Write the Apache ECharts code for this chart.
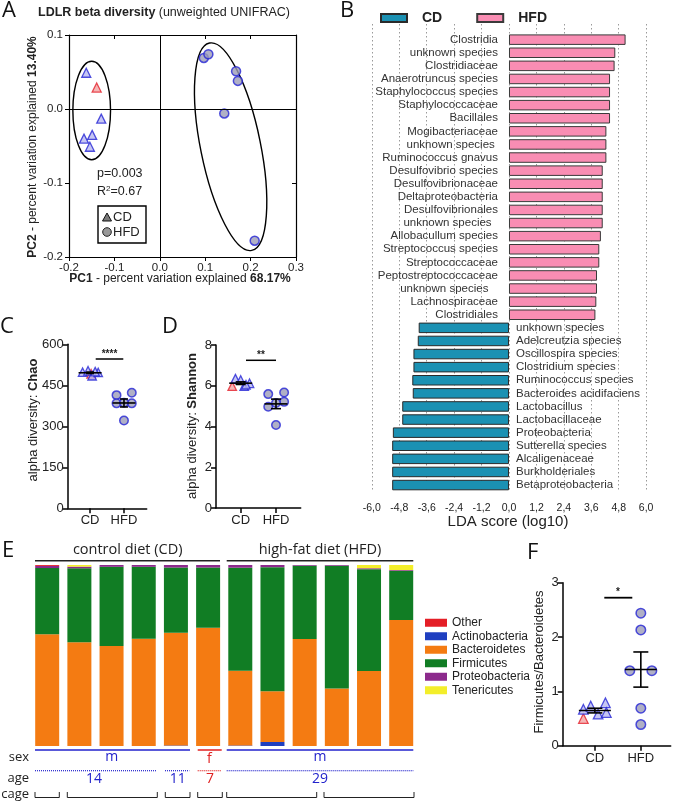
<!DOCTYPE html>
<html><head><meta charset="utf-8">
<script src="https://cdn.jsdelivr.net/npm/echarts@6/dist/echarts.min.js"></script>
<style>html,body{margin:0;padding:0;background:#fff}#c{width:673px;height:802px}</style>
</head><body><div id="c"></div><script>
// ===================== DATA =====================
// Panel A: PCoA (unweighted UNIFRAC)
const pcoaCDx = [-0.162, -0.129, -0.149, -0.167, -0.154];
const pcoaCDy = [0.049, -0.013, -0.035, -0.040, -0.051];
const pcoaCDfx = [-0.139];
const pcoaCDfy = [0.029];
const pcoaHFDx = [0.097, 0.107, 0.168, 0.172, 0.142, 0.209];
const pcoaHFDy = [0.069, 0.074, 0.051, 0.038, -0.006, -0.178];
// ellipses: [centerX, centerY, radiusX, radiusY, angleDeg]
const pcoaEllipseCD = [-0.150, -0.002, 0.0415, 0.0665, 0];
const pcoaEllipseHFD = [0.156, -0.051, 0.066, 0.143, 11.5];
const pcoaTicksX = [-0.2, -0.1, 0.0, 0.1, 0.2, 0.3];
const pcoaTicksY = [-0.2, -0.1, 0.0, 0.1];

// Panel B: LEfSe LDA scores
const ldaHFDTaxa = ['Clostridia','unknown species','Clostridiaceae','Anaerotruncus species','Staphylococcus species','Staphylococcaceae','Bacillales','Mogibacteriaceae','unknown species ','Ruminococcus gnavus','Desulfovibrio species','Desulfovibrionaceae','Deltaproteobacteria','Desulfovibrionales','unknown species  ','Allobacullum species','Streptococcus species','Streptococcaceae','Peptostreptococcaceae','unknown species   ','Lachnospiraceae','Clostridiales'];
const ldaHFD = [5.10, 4.65, 4.62, 4.42, 4.42, 4.42, 4.42, 4.26, 4.26, 4.26, 4.10, 4.10, 4.10, 4.10, 4.10, 4.02, 3.95, 3.95, 3.85, 3.85, 3.82, 3.78];
const ldaCDTaxa = ['unknown species    ','Adelcreutzia species','Oscillospira species','Clostridium species','Ruminococcus species','Bacteroides acidifaciens','Lactobacillus','Lactobacillaceae','Proteobacteria','Sutterella species','Alcaligenaceae','Burkholderiales','Betaproteobacteria'];
const ldaCD = [-3.95, -3.99, -4.18, -4.18, -4.23, -4.21, -4.67, -4.67, -5.08, -5.11, -5.11, -5.11, -5.11];
const ldaTicks = [-6.0, -4.8, -3.6, -2.4, -1.2, 0.0, 1.2, 2.4, 3.6, 4.8, 6.0];

// Panels C, D, F: per-mouse values (CD: last value = female mouse, red)
const groups = ['CD', 'HFD'];
const chaoCD = [498, 503, 485, 497, 500, 492];
const chaoHFD = [414, 423, 384, 384, 386, 321];
const shannonCD = [6.35, 6.28, 5.98, 6.12, 6.05, 5.98];
const shannonHFD = [5.59, 5.67, 4.97, 5.21, 5.15, 4.07];
const fbCD = [0.67, 0.73, 0.58, 0.79, 0.61, 0.50];
const fbHFD = [2.44, 2.13, 1.38, 1.38, 0.69, 0.39];
// horizontal scatter offsets (in group units)
const jitCDc = [-0.22, -0.06, 0.06, 0.24, 0.15, 0.03];
const jitHFDc = [-0.22, 0.23, -0.22, 0.23, 0.0, 0.0];
const jitCDd = [-0.15, 0.0, 0.1, 0.25, 0.15, -0.24];
const jitHFDd = [-0.22, 0.23, -0.22, 0.23, 0.0, 0.0];
const jitCDf = [-0.25, -0.09, 0.07, 0.23, 0.25, -0.25];
const jitHFDf = [0.0, 0.0, -0.24, 0.24, 0.0, 0.0];

// Panel E: relative abundance (%) per mouse
const samples = ['CD1','CD2','CD3','CD4','CD5','CD6','HFD1','HFD2','HFD3','HFD4','HFD5','HFD6'];
const phyla = ['Other','Actinobacteria','Bacteroidetes','Firmicutes','Proteobacteria','Tenericutes'];
const actinobacteria = [0, 0, 0, 0, 0.3, 0, 0.3, 2.2, 0, 0, 0, 0];
const bacteroidetes = [61.7, 57.3, 55.2, 59.3, 62.3, 65.4, 41.3, 28.0, 59.1, 31.7, 41.4, 69.6];
const firmicutes = [36.6, 40.9, 43.8, 39.7, 36.0, 33.2, 56.9, 68.6, 40.5, 67.9, 56.3, 27.2];
const proteobacteria = [1.2, 0.9, 1.0, 1.0, 1.4, 1.4, 1.5, 1.2, 0.4, 0.4, 0.5, 0.4];
const tenericutes = [0, 0.9, 0, 0, 0, 0, 0, 0, 0, 0, 1.8, 2.8];
const other = [0.5, 0, 0, 0, 0, 0, 0, 0, 0, 0, 0, 0];

// ===================== STYLE =====================
const FONT = '"Liberation Sans", Arial, sans-serif';
const FONT2 = '"Open Sans", "Liberation Sans", sans-serif';
const BLUE = '#2424d4', TRI_FILL = '#b8b8f0', CIR_FILL = '#9c9cb8';
const RED = '#e3202a', RED_FILL = '#f2a4a4';
const TXT = '#222';
const phylumColor = {Other:'#e41e26', Actinobacteria:'#1f3fc0', Bacteroidetes:'#f47b12', Firmicutes:'#117d24', Proteobacteria:'#8c2a8c', Tenericutes:'#f3ee2a'};

function mean(a){ return a.reduce((s,v)=>s+v,0)/a.length; }
function sem(a){ const m=mean(a); return Math.sqrt(a.reduce((s,v)=>s+(v-m)*(v-m),0)/(a.length-1))/Math.sqrt(a.length); }
function fmt1(v){ return (Math.abs(v)<1e-9?0:v).toFixed(1); }

// ===================== AXES =====================
function dotX(gi, min, max){
  return {type:'value', gridIndex:gi, min, max,
    axisLine:{onZero:false, lineStyle:{color:'#000', width:1.5}},
    axisTick:{customValues:[0,1], length:5, lineStyle:{color:'#000', width:1.5}},
    axisLabel:{customValues:[0,1], formatter:v=>groups[Math.round(v)], fontSize:13, color:TXT, fontFamily:FONT, margin:6},
    splitLine:{show:false}};
}
function dotY(gi, max, interval){
  return {type:'value', gridIndex:gi, min:0, max, interval,
    axisLine:{show:true, onZero:false, lineStyle:{color:'#000', width:1.5}},
    axisTick:{show:true, length:5, lineStyle:{color:'#000', width:1.5}},
    axisLabel:{fontSize:13, color:TXT, fontFamily:FONT, margin:4},
    splitLine:{show:false}};
}

const xAxes = [
  // 0 A bottom
  {type:'value', gridIndex:0, min:-0.2, max:0.3, interval:0.1,
   axisLine:{onZero:false, lineStyle:{color:'#000', width:1.2}},
   axisTick:{length:4, lineStyle:{color:'#000'}},
   axisLabel:{formatter:fmt1, fontSize:11.5, color:TXT, fontFamily:FONT, margin:5},
   splitLine:{show:false}},
  // 1 A top
  {type:'value', gridIndex:0, position:'top', min:-0.2, max:0.3, interval:0.1,
   axisLine:{onZero:false, lineStyle:{color:'#000', width:1.2}},
   axisTick:{inside:true, length:4, lineStyle:{color:'#000'}},
   axisLabel:{show:false}, splitLine:{show:false}},
  // 2 B
  {type:'value', gridIndex:1, min:-7.2, max:6.96, offset:5,
   axisLine:{onZero:false, lineStyle:{color:'#000', width:1.5}},
   axisTick:{customValues:ldaTicks, length:3, lineStyle:{color:'#000'}},
   axisLabel:{customValues:ldaTicks, formatter:v=>fmt1(v).replace('.',','), fontSize:10.5, color:TXT, fontFamily:FONT, margin:6},
   splitLine:{show:false}},
  // 3 B split lines
  {type:'value', gridIndex:2, min:-6, max:6, interval:1.2,
   axisLine:{show:false}, axisTick:{show:false}, axisLabel:{show:false},
   splitLine:{show:true, lineStyle:{color:'#9a9a9a', type:[1.5,2.5], width:1}}},
  // 4 C
  dotX(3, -0.66, 1.67),
  // 5 D
  dotX(4, -0.70, 1.70),
  // 6 E
  {type:'category', gridIndex:5, data:samples, show:false},
  // 7 F
  dotX(6, -0.70, 1.65)
];
const yAxes = [
  // 0 A left
  {type:'value', gridIndex:0, min:-0.2, max:0.1, interval:0.1,
   axisLine:{show:true, onZero:false, lineStyle:{color:'#000', width:1.2}},
   axisTick:{show:true, length:4, lineStyle:{color:'#000'}},
   axisLabel:{formatter:fmt1, fontSize:11.5, color:TXT, fontFamily:FONT, margin:6},
   splitLine:{show:false}},
  // 1 A right
  {type:'value', gridIndex:0, position:'right', min:-0.2, max:0.1, interval:0.1,
   axisLine:{show:true, onZero:false, lineStyle:{color:'#000', width:1.2}},
   axisTick:{show:true, inside:true, length:4, lineStyle:{color:'#000'}},
   axisLabel:{show:false}, splitLine:{show:false}},
  // 2 B categories
  {type:'category', gridIndex:1, inverse:true, data:ldaHFDTaxa.concat(ldaCDTaxa), show:false},
  // 3 B split dummy
  {type:'value', gridIndex:2, show:false},
  // 4 C
  dotY(3, 600, 150),
  // 5 D
  dotY(4, 8, 2),
  // 6 E
  {type:'value', gridIndex:5, min:0, max:100, show:false},
  // 7 F
  dotY(6, 3, 1)
];

const grids = [
  {left:69, top:35, width:227, height:222},          // A
  {left:344.4, top:33.1, width:323.7, height:458.5}, // B bars
  {left:371.8, top:24, width:274.3, height:467},     // B split lines
  {left:67.7, top:344.3, width:79, height:164},      // C
  {left:216, top:345, width:84.7, height:163},       // D
  {left:31.1, top:565, width:386.2, height:181},     // E
  {left:562.7, top:582.7, width:108, height:163}     // F
];

// ===================== SERIES =====================
const series = [];
const triStyle = {color:TRI_FILL, borderColor:BLUE, borderWidth:1.3};
const triRed = {color:RED_FILL, borderColor:RED, borderWidth:1.3};
const cirStyle = {color:CIR_FILL, borderColor:BLUE, borderWidth:1.5};

// --- A ---
series.push({type:'custom', name:'ellipses', xAxisIndex:0, yAxisIndex:0, z:1, silent:true,
  data:[pcoaEllipseCD, pcoaEllipseHFD],
  renderItem:(p, api)=>{
    const c = api.coord([api.value(0), api.value(1)]);
    const sz = api.size([api.value(2), api.value(3)]);
    return {type:'ellipse', x:c[0], y:c[1], rotation:api.value(4)*Math.PI/180,
      shape:{cx:0, cy:0, rx:sz[0], ry:sz[1]}, style:{fill:'none', stroke:'#000', lineWidth:1.4}};
  }});
series.push({type:'scatter', name:'A_CD', xAxisIndex:0, yAxisIndex:0, symbol:'triangle', symbolSize:9, itemStyle:triStyle, z:3,
  data:pcoaCDx.map((x,i)=>[x, pcoaCDy[i]]),
  markLine:{silent:true, symbol:['none','none'], label:{show:false}, lineStyle:{color:'#000', type:'solid', width:1},
    data:[{xAxis:0},{yAxis:0}]}});
series.push({type:'scatter', name:'A_CDf', xAxisIndex:0, yAxisIndex:0, symbol:'triangle', symbolSize:9, itemStyle:triRed, z:3,
  data:pcoaCDfx.map((x,i)=>[x, pcoaCDfy[i]])});
series.push({type:'scatter', name:'A_HFD', xAxisIndex:0, yAxisIndex:0, symbol:'circle', symbolSize:9, itemStyle:cirStyle, z:3,
  data:pcoaHFDx.map((x,i)=>[x, pcoaHFDy[i]])});

// --- B ---
const nHFD = ldaHFD.length, nCD = ldaCD.length;
series.push({type:'bar', name:'HFD', xAxisIndex:2, yAxisIndex:2, barWidth:10.5, barGap:'-100%',
  itemStyle:{color:'#f98db3', borderColor:'#3a3a3a', borderWidth:1},
  label:{show:true, position:'left', distance:11, formatter:'{b}', fontSize:11.5, color:'#333', fontFamily:FONT},
  data:ldaHFD.concat(new Array(nCD).fill(null))});
series.push({type:'bar', name:'CD', xAxisIndex:2, yAxisIndex:2, barWidth:10.5, barGap:'-100%',
  itemStyle:{color:'#1b91b3', borderColor:'#2a2a2a', borderWidth:1},
  label:{show:true, position:'right', distance:7, formatter:'{b}', fontSize:11.5, color:'#333', fontFamily:FONT},
  data:new Array(nHFD).fill(null).concat(ldaCD)});
series.push({type:'scatter', name:'split', xAxisIndex:3, yAxisIndex:3, data:[]});

// --- C, D, F dot plots ---
function errSeries(xi, yi, cd, hfd, halfMean, halfCap){
  return {type:'custom', name:'err'+xi, xAxisIndex:xi, yAxisIndex:yi, z:5, silent:true,
    data:[[0, mean(cd), sem(cd)], [1, mean(hfd), sem(hfd)]],
    renderItem:(p, api)=>{
      const x=api.value(0), m=api.value(1), s=api.value(2);
      const c=api.coord([x,m]), t=api.coord([x,m+s]), b=api.coord([x,m-s]);
      const st={stroke:'#000', lineWidth:1.6};
      return {type:'group', children:[
        {type:'line', shape:{x1:c[0]-halfMean, y1:c[1], x2:c[0]+halfMean, y2:c[1]}, style:st},
        {type:'line', shape:{x1:c[0], y1:t[1], x2:c[0], y2:b[1]}, style:st},
        {type:'line', shape:{x1:c[0]-halfCap, y1:t[1], x2:c[0]+halfCap, y2:t[1]}, style:st},
        {type:'line', shape:{x1:c[0]-halfCap, y1:b[1], x2:c[0]+halfCap, y2:b[1]}, style:st}
      ]};
    }};
}
function dotSeries(xi, yi, cd, hfd, jc, jh, size, halfMean, halfCap){
  const n = cd.length;
  series.push({type:'scatter', name:'cd'+xi, xAxisIndex:xi, yAxisIndex:yi, symbol:'triangle', symbolSize:size, itemStyle:triStyle, z:3,
    data:cd.slice(0,n-1).map((v,i)=>[jc[i], v])});
  series.push({type:'scatter', name:'cdf'+xi, xAxisIndex:xi, yAxisIndex:yi, symbol:'triangle', symbolSize:size, itemStyle:triRed, z:2,
    data:[[jc[n-1], cd[n-1]]]});
  series.push({type:'scatter', name:'hfd'+xi, xAxisIndex:xi, yAxisIndex:yi, symbol:'circle', symbolSize:size, itemStyle:cirStyle, z:3,
    data:hfd.map((v,i)=>[1+jh[i], v])});
  series.push(errSeries(xi, yi, cd, hfd, halfMean, halfCap));
}
dotSeries(4, 4, chaoCD, chaoHFD, jitCDc, jitHFDc, 8.5, 11.5, 4);
dotSeries(5, 5, shannonCD, shannonHFD, jitCDd, jitHFDd, 8.5, 11.5, 5);
dotSeries(7, 7, fbCD, fbHFD, jitCDf, jitHFDf, 9.5, 16, 7.5);

// --- E stacked bars ---
const eData = {Actinobacteria:actinobacteria, Bacteroidetes:bacteroidetes, Firmicutes:firmicutes, Proteobacteria:proteobacteria, Tenericutes:tenericutes, Other:other};
['Actinobacteria','Bacteroidetes','Firmicutes','Proteobacteria','Tenericutes','Other'].forEach(name=>{
  series.push({type:'bar', name, xAxisIndex:6, yAxisIndex:6, stack:'phyla', barWidth:24,
    itemStyle:{color:phylumColor[name]}, data:eData[name]});
});

// ===================== ANNOTATIONS =====================
function txt(x, y, text, o){
  o = o || {};
  return {type:'text', x, y, rotation:o.rot||0, z:10,
    style:{text, font:o.font||('12px '+FONT), fill:o.fill||TXT, align:o.align||'left', verticalAlign:'middle', rich:o.rich}};
}
function ln(x1, y1, x2, y2, color, w, dash){
  return {type:'line', z:10, shape:{x1, y1, x2, y2}, style:{stroke:color||'#000', lineWidth:w||1.5, lineDash:dash||null}};
}
const letterFont = '22px '+FONT2;
const boldRich = (fs)=>({b:{fontWeight:'bold', fontSize:fs, fontFamily:FONT, fill:TXT}, n:{fontSize:fs, fontFamily:FONT, fill:TXT}});
const g = [];
// panel letters
g.push(txt(2, 11, 'A', {font:letterFont, fill:'#111'}));
g.push(txt(340, 11, 'B', {font:letterFont, fill:'#111'}));
g.push(txt(0, 327, 'C', {font:letterFont, fill:'#111'}));
g.push(txt(162, 327, 'D', {font:letterFont, fill:'#111'}));
g.push(txt(2, 551, 'E', {font:letterFont, fill:'#111'}));
g.push(txt(527, 553, 'F', {font:letterFont, fill:'#111'}));
// A
g.push(txt(38, 13, '{b|LDLR beta diversity} {n|(unweighted UNIFRAC)}', {rich:boldRich(12.5)}));
g.push(txt(33, 147, '{b|PC2} {n|- percent variation explained} {b|13.40%}', {rot:Math.PI/2, align:'center', rich:boldRich(12)}));
g.push(txt(180, 279, '{b|PC1} {n|- percent variation explained} {b|68.17%}', {align:'center', rich:boldRich(12)}));
g.push(txt(97, 174, 'p=0.003', {font:'12.5px '+FONT}));
g.push(txt(97, 192, '{n|R}{s|2}{n|=0.67}', {rich:{n:{fontSize:12.5, fontFamily:FONT, fill:TXT}, s:{fontSize:8, fontFamily:FONT, fill:TXT, verticalAlign:'top', padding:[0,0,6,0]}}}));
g.push({type:'rect', z:10, shape:{x:98, y:206, width:48, height:37}, style:{fill:'none', stroke:'#000', lineWidth:1.4}});
g.push({type:'polygon', z:10, shape:{points:[[102.5,221],[111.5,221],[107,213]]}, style:{fill:'#7a7a7a', stroke:'#111', lineWidth:1}});
g.push(txt(113, 217.5, 'CD', {font:'13px '+FONT}));
g.push({type:'circle', z:10, shape:{cx:107, cy:232, r:4.3}, style:{fill:'#9a9a9a', stroke:'#222', lineWidth:1}});
g.push(txt(113, 232.5, 'HFD', {font:'13px '+FONT}));
// B
g.push(txt(508, 521.5, 'LDA score (log10)', {align:'center', font:'15px '+FONT}));
// C, D, F titles & significance
g.push(txt(33, 420, '{n|alpha diversity: }{b|Chao}', {rot:Math.PI/2, align:'center', rich:boldRich(13)}));
g.push(txt(192, 426, '{n|alpha diversity: }{b|Shannon}', {rot:Math.PI/2, align:'center', rich:boldRich(13)}));
g.push(txt(539, 662, 'Firmicutes/Bacteroidetes', {rot:Math.PI/2, align:'center', font:'13px '+FONT}));
g.push(ln(95.7, 359, 123.3, 359, '#000', 1.5));
g.push(txt(109.5, 354, '****', {align:'center', font:'bold 10px '+FONT}));
g.push(ln(246, 360.3, 276, 360.3, '#000', 1.5));
g.push(txt(261, 355, '**', {align:'center', font:'bold 10px '+FONT}));
g.push(ln(604.3, 597.7, 632.3, 597.7, '#000', 1.8));
g.push(txt(618, 592, '*', {align:'center', font:'bold 10px '+FONT}));
// E header
g.push(txt(127.7, 550, 'control diet (CD)', {align:'center', font:'14.5px '+FONT2}));
g.push(txt(320, 550, 'high-fat diet (HFD)', {align:'center', font:'14.5px '+FONT2}));
g.push(ln(35, 560.7, 220, 560.7, '#222', 1.5));
g.push(ln(226.7, 560.7, 413.3, 560.7, '#222', 1.5));
// E rows
const EB = '#2222cc', ER = '#e02020';
g.push(txt(29, 757.5, 'sex', {align:'right', font:'13px '+FONT2}));
g.push(txt(29, 778, 'age', {align:'right', font:'13px '+FONT2}));
g.push(txt(29, 794, 'cage', {align:'right', font:'13px '+FONT2}));
g.push(ln(35, 750, 190, 750, EB, 1.5));
g.push(ln(197.7, 750, 221.7, 750, ER, 1.5));
g.push(ln(226.7, 750, 413.3, 750, EB, 1.5));
g.push(txt(111.7, 757.5, 'm', {align:'center', font:'14px '+FONT2, fill:EB}));
g.push(txt(209.3, 759.5, 'f', {align:'center', font:'14px '+FONT2, fill:ER}));
g.push(txt(320, 757.5, 'm', {align:'center', font:'14px '+FONT2, fill:EB}));
g.push(ln(35, 770.7, 156, 770.7, EB, 1.2, [1,1]));
g.push(ln(165, 770.7, 189.3, 770.7, EB, 1.2, [1,1]));
g.push(ln(197.7, 770.7, 221.7, 770.7, ER, 1.2, [1,1]));
g.push(ln(226.7, 770.7, 413.3, 770.7, EB, 1.2, [1,1]));
g.push(txt(94, 779.5, '14', {align:'center', font:'14px '+FONT2, fill:EB}));
g.push(txt(177.7, 779.5, '11', {align:'center', font:'14px '+FONT2, fill:EB}));
g.push(txt(210, 779.5, '7', {align:'center', font:'14px '+FONT2, fill:ER}));
g.push(txt(320, 779.5, '29', {align:'center', font:'14px '+FONT2, fill:EB}));
[[35,59.3],[67.3,157.3],[165.3,190],[197.7,222.3],[226.7,316.7],[324,414]].forEach(([a,b])=>{
  g.push({type:'polyline', z:10, shape:{points:[[a,792],[a,797.5],[b,797.5],[b,792]]}, style:{stroke:'#222', lineWidth:1, fill:'none'}});
});

// ===================== OPTION =====================
const option = {
  animation:false,
  backgroundColor:'#fff',
  grid:grids,
  xAxis:xAxes,
  yAxis:yAxes,
  legend:[
    {data:['CD','HFD'], left:375, top:6, itemWidth:26, itemHeight:8, itemGap:34, selectedMode:false, icon:'rect',
     textStyle:{fontSize:14, fontWeight:'bold', fontFamily:FONT, color:TXT, padding:[0,0,0,10]}},
    {data:phyla, orient:'vertical', left:420, top:611, itemWidth:22, itemHeight:8, itemGap:0, selectedMode:false, icon:'rect',
     textStyle:{fontSize:12, fontFamily:FONT, color:TXT, lineHeight:13.5}}
  ],
  series,
  graphic:{elements:g}
};
const chart = echarts.init(document.getElementById('c'));
chart.setOption(option);
</script></body></html>
